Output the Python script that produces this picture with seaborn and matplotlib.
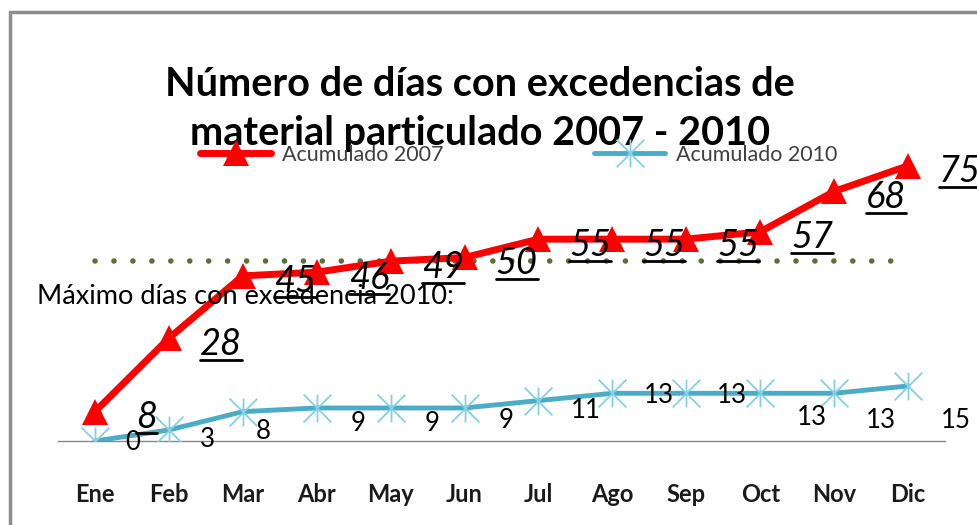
import numpy as np
import pandas as pd
import matplotlib
matplotlib.use("Agg")
import matplotlib.pyplot as plt
import seaborn as sns
from matplotlib.lines import Line2D
from matplotlib.patches import Rectangle
from matplotlib.path import Path

meses = ['Ene', 'Feb', 'Mar', 'Abr', 'May', 'Jun', 'Jul', 'Ago', 'Sep', 'Oct', 'Nov', 'Dic']
acum_2007 = [8, 28, 45, 46, 49, 50, 55, 55, 55, 57, 68, 75]
acum_2010 = [0, 3, 8, 9, 9, 9, 11, 13, 13, 13, 13, 15]
max_2010 = 49

# where the data labels sit relative to their point (pixels)
off_2007 = (52, -6)
off_2010 = [(38, -2), (39, -10), (20, -20), (41, -16), (42, -16), (42, -13),
            (47, -10), (46, -2), (46, -2), (52, -24), (47, -27), (48, -35)]

sns.set_style("white")
plt.rcParams['font.family'] = ['Lato', 'DejaVu Sans']
plt.rcParams['text.color'] = 'black'

df = pd.DataFrame({'x': np.arange(len(meses)), 'mes': meses,
                   'a2007': acum_2007, 'a2010': acum_2010})

W, H = 978, 525
fig = plt.figure(figsize=(W / 100, H / 100), dpi=100)
ax = fig.add_axes([58 / W, 1 - 441 / H, 887 / W, 293.6 / H])

star = Path([(0, -1), (0, 1), (-1, -1), (1, 1), (-1, 1), (1, -1)],
            [Path.MOVETO, Path.LINETO, Path.MOVETO, Path.LINETO, Path.MOVETO, Path.LINETO])

sns.lineplot(data=df, x='x', y='a2007', ax=ax, color='#FF0000', linewidth=5,
             marker='^', markersize=19, markeredgewidth=0, label='Acumulado 2007', zorder=4)
sns.lineplot(data=df, x='x', y='a2010', ax=ax, color='#4BACC6', linewidth=3.5,
             marker=star, markersize=20, markeredgewidth=1.3, markeredgecolor='#86D0E4',
             markerfacecolor='none', label='Acumulado 2010', zorder=3)

# reference line for the 2010 maximum
ax.plot([df['x'].min(), df['x'].max()], [max_2010, max_2010], color='#5B7033',
        linestyle=(0, (0.01, 3.4)), linewidth=4, dash_capstyle='round', zorder=2)

ax.set_xlim(-0.5, len(meses) - 0.5)
ax.set_ylim(0, 80)
ax.set_xlabel('')
ax.set_ylabel('')
ax.set_yticks([])
ax.set_xticks(df['x'])
ax.set_xticklabels(meses, fontsize=17, fontweight='bold', color='#1a1a1a')
ax.set_xticks(np.arange(-0.5, len(meses)), minor=True)
ax.tick_params(axis='x', which='major', length=0, pad=30)
ax.tick_params(axis='x', which='minor', length=8, width=1, color='#888888', direction='out')
for s in ['top', 'left', 'right']:
    ax.spines[s].set_visible(False)
ax.spines['bottom'].set_color('#888888')
ax.spines['bottom'].set_linewidth(1)
ax.patch.set_alpha(0)

labels_2007 = []
for i, v in enumerate(acum_2007):
    t = ax.annotate(str(v), (i, v), xytext=off_2007, textcoords='offset pixels',
                    ha='center', va='center', fontsize=26, fontstyle='italic',
                    color='black', zorder=6)
    labels_2007.append(t)

for i, v in enumerate(acum_2010):
    ax.annotate(str(v), (i, v), xytext=off_2010[i], textcoords='offset pixels',
                ha='center', va='center', fontsize=18.5, color='black', zorder=6)

ax.get_legend().remove()
h, l = ax.get_legend_handles_labels()
fig.legend(h, l, loc='center left', bbox_to_anchor=(200 / W, 1 - 155 / H), ncol=2,
           frameon=False, fontsize=15.5, handlelength=3.3, columnspacing=7.0,
           handletextpad=0.5, borderpad=0, borderaxespad=0, labelcolor='#404040')

fig.text(480 / W, 1 - 109 / H, "Número de días con excedencias de\nmaterial particulado 2007 - 2010",
         ha='center', va='center', fontsize=28.5, fontweight='bold', linespacing=1.4,
         color='black')

fig.text(37 / W, 1 - 297 / H, "Máximo días con excedencia 2010:", ha='left', va='center',
         fontsize=19.5, color='black', zorder=5)

# chart frame (only top and left edges visible)
fig.add_artist(Rectangle((10 / W, -0.2), 1.2, 1.2 - 12 / H, transform=fig.transFigure,
                         fill=False, edgecolor='#8c8c8c', linewidth=2.5, clip_on=False))

# underline the 2007 labels
fig.canvas.draw()
renderer = fig.canvas.get_renderer()
for t in labels_2007:
    bb = t.get_window_extent(renderer)
    yy = (bb.y0 + 1) / H
    fig.add_artist(Line2D([bb.x0 / W, bb.x1 / W], [yy, yy], color='black',
                          linewidth=2, transform=fig.transFigure, zorder=6))

fig.savefig('out.png', dpi=100)
